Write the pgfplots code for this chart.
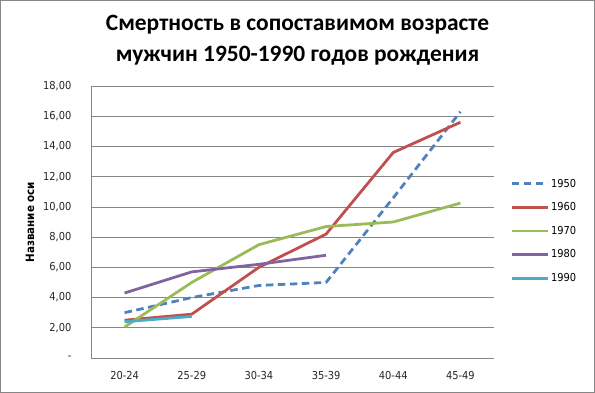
\documentclass[border=0pt]{standalone}
\usepackage{pgfplots}
\pgfplotsset{compat=1.18}
\usepackage{fontspec}
\setmainfont{DejaVu Sans Condensed}
\newfontfamily\titlefont{Carlito}
\definecolor{c50}{HTML}{4F81BD}
\definecolor{c60}{HTML}{C0504D}
\definecolor{c70}{HTML}{9BBB59}
\definecolor{c80}{HTML}{8064A2}
\definecolor{c90}{HTML}{4BACC6}
\definecolor{gridc}{HTML}{868686}
\begin{document}
\begin{tikzpicture}
\path[use as bounding box] (0,0) rectangle (595bp,393bp);
\draw[gridc, line width=0.8bp] (0.4bp,0.4bp) rectangle (594.6bp,392.6bp);
\node[font=\titlefont\bfseries\fontsize{23.5}{31}\selectfont, align=center] at (297.5bp,353bp) {Смертность в сопоставимом возрасте\\мужчин 1950-1990 годов рождения};
\begin{axis}[
  at={(91bp,35bp)}, anchor=south west,
  width=403bp, height=272bp, scale only axis,
  xmin=-0.5, xmax=5.5, ymin=0, ymax=18,
  xtick={0,1,2,3,4,5},
  xticklabels={20-24,25-29,30-34,35-39,40-44,45-49},
  ytick={0,2,4,6,8,10,12,14,16,18},
  yticklabels={-,{2,00},{4,00},{6,00},{8,00},{10,00},{12,00},{14,00},{16,00},{18,00}},
  ymajorgrids, major grid style={gridc, line width=0.7bp},
  axis x line=bottom, axis y line=left,
  axis line style={gridc, line width=0.7bp, -},
  tick style={draw=none},
  ticklabel style={font=\fontsize{11}{13}\selectfont, text=black!85},
  xticklabel style={yshift=-8bp},
  yticklabel style={xshift=-14bp},
  every axis y label/.style={at={(axis description cs:-0.151,0.5)}, rotate=90, anchor=center, font=\fontsize{11.5}{13}\selectfont},
  ylabel={\bfseries Название оси},
  legend style={draw=none, fill=none, at={(1.04,0.467)}, anchor=west, font=\fontsize{11}{13}\selectfont, row sep=10bp, inner sep=0pt},
  legend cell align=left,
  legend image code/.code={\draw[#1, line width=2.8pt] (0bp,0bp) -- (36bp,0bp);},
  line join=round,
]
\addplot[c50, line width=2.8pt, dash pattern=on 7.5bp off 4.5bp] coordinates {(0,3.0)(1,4.0)(2,4.8)(3,5.0)(4,10.6)(5,16.3)};
\addlegendentry{1950}
\addplot[c60, line width=2.8pt] coordinates {(0,2.5)(1,2.9)(2,6.0)(3,8.2)(4,13.6)(5,15.6)};
\addlegendentry{1960}
\addplot[c70, line width=2.8pt] coordinates {(0,2.05)(1,5.0)(2,7.5)(3,8.7)(4,9.0)(5,10.25)};
\addlegendentry{1970}
\addplot[c80, line width=2.8pt] coordinates {(0,4.3)(1,5.7)(2,6.2)(3,6.8)};
\addlegendentry{1980}
\addplot[c90, line width=2.8pt] coordinates {(0,2.4)(1,2.75)};
\addlegendentry{1990}
\end{axis}
\end{tikzpicture}
\end{document}
